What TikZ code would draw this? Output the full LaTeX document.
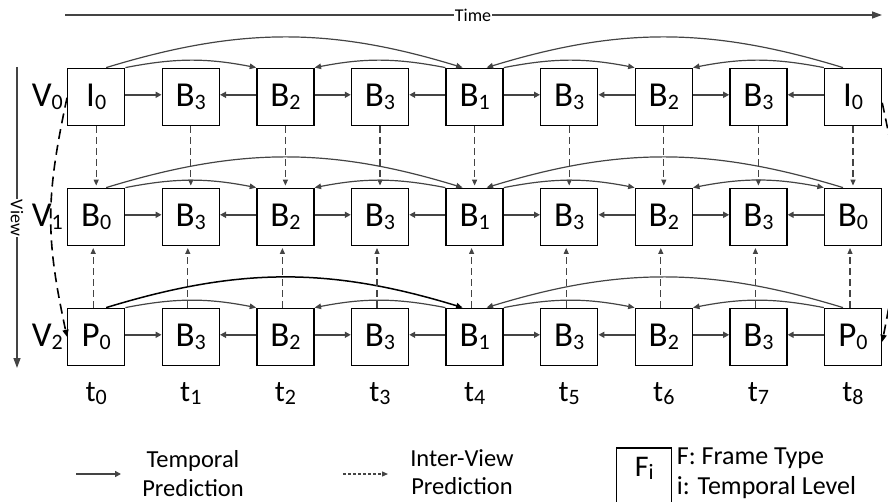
\documentclass[tikz,border=0pt]{standalone}
\usepackage{fontspec}
\setmainfont{Carlito}
\usetikzlibrary{arrows.meta,calc}
\definecolor{linegray}{RGB}{68,68,68}
% lowered level index after a frame letter
\newcommand\lvl[1]{\raisebox{-3.2pt}{\fontsize{22}{22}\selectfont #1}}
\begin{document}
\begin{tikzpicture}[x=1pt,y=1pt,
  framebox/.style={draw=black,line width=1.4pt,minimum width=57pt,minimum height=57pt,
    inner sep=0pt,font=\fontsize{35}{40}\selectfont},
  temporal/.style={draw=linegray,line width=2.2pt,-{Triangle[length=6pt,width=6pt]}},
  hop/.style={draw=linegray,line width=1.2pt,-{Triangle[length=6.5pt,width=5.5pt]}},
  interview/.style={draw=linegray,line width=1.2pt,dash pattern=on 7pt off 4pt,
    -{Triangle[length=6pt,width=5pt]},shorten >=2pt},
  viewpred/.style={draw=black,line width=1.6pt,dash pattern=on 10pt off 6pt,
    -{Triangle[length=7pt,width=6pt]}},
  axisline/.style={draw=linegray,line width=1.3pt,-{Triangle[length=10pt,width=7pt]}},
  axislabel/.style={fill=white,inner sep=1pt,font=\fontsize{18}{20}\selectfont},
  tlabel/.style={anchor=base,inner sep=0pt,font=\fontsize{30}{32}\selectfont},
  vlabel/.style={anchor=east,inner sep=0pt,font=\fontsize{35}{40}\selectfont},
  legendtext/.style={inner sep=0pt,font=\fontsize{24.5}{28.3}\selectfont,align=center}
]
\useasboundingbox (0,0) rectangle (888,501);
\clip (0,0) rectangle (888,501);

% frames: three views, nine time instants
\foreach \row/\yy/\ends in {0/404.2/I,1/284.2/B,2/164.2/P}{
  \foreach \col/\f/\l in {0/\ends/0,1/B/3,2/B/2,3/B/3,4/B/1,5/B/3,6/B/2,7/B/3,8/\ends/0}{
    \node[framebox] (r\row c\col) at ({96.2+94.6*\col},\yy) {\f\lvl{\l}};
  }
  \node[vlabel] (v\row) at ([xshift=-4pt]r\row c0.west) {V\lvl{\row}};
}

% time instants
\foreach \col in {0,...,8}{
  \node[tlabel] (t\col) at ({96.2+94.6*\col},99.3) {t\lvl{\col}};
}

% temporal prediction between neighbouring frames
\foreach \row in {0,1,2}{
  \foreach \s/\d/\a/\b in {0/1/east/west,2/1/west/east,2/3/east/west,4/3/west/east,
                           4/5/east/west,6/5/west/east,6/7/east/west,8/7/west/east}{
    \draw[temporal] ([yshift=2pt]r\row c\s.\a) -- ([yshift=2pt]r\row c\d.\b);
  }
  \draw[hop] (r\row c0.north east) to[out=11,in=169] (r\row c2.north west);
  \draw[hop] (r\row c4.north west) to[out=169,in=11] (r\row c2.north east);
  \draw[hop] (r\row c4.north east) to[out=11,in=169] (r\row c6.north west);
  \draw[hop] ([xshift=-10pt]r\row c8.north) to[out=163,in=17] ([xshift=12pt]r\row c4.north);
}
\draw[hop] (r0c8.north west) to[out=169,in=11] (r0c6.north east);
\draw[hop,{Triangle[length=6.5pt,width=5.5pt]}-{Triangle[length=6.5pt,width=5.5pt]}]
  (r1c8.north west) to[out=169,in=11] (r1c6.north east);
\draw[hop] (r2c8.north west) to[out=169,in=11] (r2c6.north east);
\draw[hop] ([xshift=10pt]r0c0.north) to[out=17,in=163] ([xshift=-12pt]r0c4.north);
\draw[hop] ([xshift=10pt]r1c0.north) to[out=17,in=163] ([xshift=-12pt]r1c4.north);
\draw[hop,draw=black,line width=1.5pt] ([xshift=10pt]r2c0.north) to[out=17,in=163] ([xshift=-12pt]r2c4.north);

% inter-view prediction
\foreach \col in {0,...,8}{
  \draw[interview] (r0c\col.south) -- (r1c\col.north);
  \draw[interview] ([xshift=-3pt]r2c\col.north) -- ([xshift=-3pt]r1c\col.south);
}

% view prediction of the anchor frames
\draw[viewpred] ([yshift=-1pt]r0c0.west) .. controls (45.5,303) and (45.5,264) .. (r2c0.west);
\draw[viewpred] ([yshift=-6pt]r0c8.east) .. controls (903,303) and (903,264) .. ([yshift=-5pt]r2c8.east);

% axes
\coordinate (timeL) at (65,486);
\coordinate (timeR) at (882,486);
\draw[axisline] (timeL) -- (timeR);
\node[axislabel] (timelabel) at (473,486) {Time};
\coordinate (viewT) at (17,434);
\coordinate (viewB) at (17,133);
\draw[axisline] (viewT) -- (viewB);
\node[axislabel,rotate=-90] (viewlabel) at (17,283) {View};

% legend
\coordinate (tpL) at (76,27);
\coordinate (tpR) at (121,27);
\draw[draw=linegray,line width=2.6pt,-{Triangle[length=6pt,width=6pt]}] (tpL) -- (tpR);
\node[legendtext] (tptext) at (193,27.5) {Temporal\\Prediction};
\coordinate (ivL) at (343,27);
\coordinate (ivR) at (388,27);
\draw[draw=linegray,line width=1.2pt,dash pattern=on 3pt off 2pt,-{Triangle[length=6pt,width=5pt]}] (ivL) -- (ivR);
\node[legendtext] (ivtext) at (462,28.5) {Inter-View\\Prediction};
\node[framebox,minimum width=55pt,font=\fontsize{30}{32}\selectfont,text height=18pt,text depth=18pt]
  (fkey) at (644.2,24.5) {F\lvl{i}};
\node[inner sep=0pt,anchor=west,align=left,font=\fontsize{26}{30.5}\selectfont]
  (fkeytext) at (676.7,27.5) {F: Frame Type\\i: Temporal Level};
\end{tikzpicture}
\end{document}
